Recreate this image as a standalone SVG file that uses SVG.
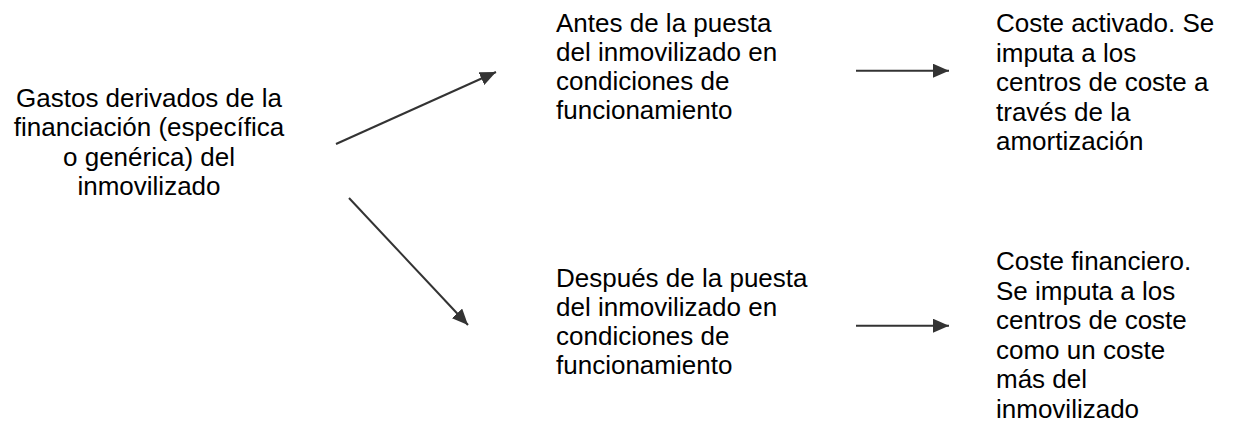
<svg xmlns="http://www.w3.org/2000/svg" width="1236" height="425" viewBox="0 0 1236 425">
  <style>
    .t { font-family: "Liberation Sans", Arial, sans-serif; font-size: 26px; fill: #000; }
    .c { text-anchor: middle; }
    .conn line { stroke: #333; stroke-width: 2; marker-end: url(#ah); }
  </style>
  <defs>
    <marker id="ah" markerUnits="userSpaceOnUse" markerWidth="16" markerHeight="14" refX="16" refY="7" orient="auto">
      <path d="M0,0 L16,7 L0,14 Z" fill="#333"/>
    </marker>
  </defs>
  <rect width="1236" height="425" fill="#fff"/>
  <g id="n-gastos">
    <text class="t c" x="149" y="107">Gastos derivados de la</text>
    <text class="t c" x="149" y="136.3">financiación (específica</text>
    <text class="t c" x="149" y="165.6">o genérica) del</text>
    <text class="t c" x="149" y="195">inmovilizado</text>
  </g>
  <g id="n-antes">
    <text class="t" x="556" y="32">Antes de la puesta</text>
    <text class="t" x="556" y="61">del inmovilizado en</text>
    <text class="t" x="556" y="90">condiciones de</text>
    <text class="t" x="556" y="119">funcionamiento</text>
  </g>
  <g id="n-despues">
    <text class="t" x="556" y="287">Después de la puesta</text>
    <text class="t" x="556" y="316">del inmovilizado en</text>
    <text class="t" x="556" y="345">condiciones de</text>
    <text class="t" x="556" y="374">funcionamiento</text>
  </g>
  <g id="n-activado">
    <text class="t" x="996" y="32">Coste activado. Se</text>
    <text class="t" x="996" y="61.5">imputa a los</text>
    <text class="t" x="996" y="91">centros de coste a</text>
    <text class="t" x="996" y="120.5">través de la</text>
    <text class="t" x="996" y="150">amortización</text>
  </g>
  <g id="n-financiero">
    <text class="t" x="996" y="270">Coste financiero.</text>
    <text class="t" x="996" y="299.5">Se imputa a los</text>
    <text class="t" x="996" y="329">centros de coste</text>
    <text class="t" x="996" y="358.5">como un coste</text>
    <text class="t" x="996" y="388">más del</text>
    <text class="t" x="996" y="417.5">inmovilizado</text>
  </g>
  <g id="connectors" class="conn">
    <line x1="336" y1="144" x2="496" y2="72"/>
    <line x1="349" y1="198" x2="468" y2="325"/>
    <line x1="856" y1="70.7" x2="949" y2="70.7"/>
    <line x1="856" y1="325.7" x2="949" y2="325.7"/>
  </g>
</svg>
